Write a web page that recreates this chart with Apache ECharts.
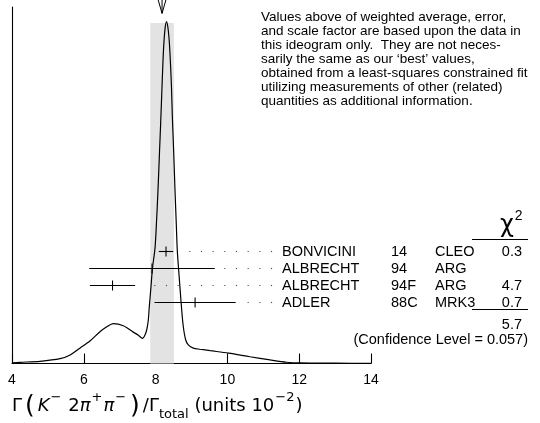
<!DOCTYPE html>
<html>
<head>
<meta charset="utf-8">
<script src="https://cdn.jsdelivr.net/npm/echarts@6/dist/echarts.min.js"></script>
<style>
  html, body { margin: 0; padding: 0; background: #fff; }
  #chart { width: 540px; height: 423px; }
</style>
</head>
<body>
<div id="chart"></div>
<script>
// Ideogram curve: branching ratio (units 10^-2) and relative density (0-100)
const curveX = [4.00, 4.22, 4.78, 5.34, 5.62, 5.89, 6.17, 6.45, 6.64, 6.82, 7.10, 7.38, 7.52,
  7.635, 7.691, 7.752, 7.797, 7.824, 7.864, 7.914, 7.983, 8.025, 8.067, 8.109, 8.142, 8.170,
  8.198, 8.226, 8.262, 8.304, 8.345, 8.382, 8.415, 8.443, 8.465, 8.499, 8.540, 8.577, 8.604,
  8.638, 8.688, 8.727, 8.772, 8.838, 8.911, 9.050, 9.237, 9.52, 10.03, 10.63, 11.19, 11.65,
  12.02, 13.0, 14.0];
const curveY = [0.2, 0.34, 0.62, 1.35, 2.4, 4.3, 6.3, 8.9, 10.3, 11.2, 10.6, 8.8, 7.9,
  7.07, 7.71, 9.4, 12.2, 15.9, 20.6, 26.8, 32.3, 39.6, 48.7, 59.3, 67.7, 75.3,
  82.9, 89.1, 93.8, 95.9, 94.1, 90.2, 84.0, 77.3, 69.7, 60.7, 48.7, 38.9, 31.8,
  26.8, 20.1, 15.0, 10.3, 6.6, 5.2, 4.3, 4.0, 3.6, 2.9, 1.9, 1.0, 0.35,
  0.15, 0.08, 0.06];

// Measurements
const authors     = ['BONVICINI', 'ALBRECHT', 'ALBRECHT', 'ADLER'];
const years       = ['14', '94', '94F', '88C'];
const experiments = ['CLEO', 'ARG', 'ARG', 'MRK3'];
const values      = [8.29, 7.9, 6.80, 9.1];
const errors      = [0.20, 1.75, 0.63, 1.13];
const chi2        = ['0.3', '', '4.7', '0.7'];

// Weighted average and fit summary
const average = 8.18;
const averageError = 0.33;
const chi2Total = '5.7';
const confidenceLevel = '0.057';

// Axis
const xMin = 4, xMax = 14, xStep = 2;

const noteLines = [
  'Values above of weighted average, error,',
  'and scale factor are based upon the data in',
  'this ideogram only.  They are not neces-',
  'sarily the same as our \u2018best\u2019 values,',
  'obtained from a least-squares constrained fit',
  'utilizing measurements of other (related)',
  'quantities as additional information.'
];

const FONT = '"Liberation Sans", Arial, Helvetica, sans-serif';
const MATH = '"DejaVu Sans", sans-serif';
const chart = echarts.init(document.getElementById('chart'), null, { renderer: 'canvas' });

const curveData = curveX.map((x, i) => [x, curveY[i]]);
const rowData = values.map((v, i) => [v, errors[i], i]);

const NAME_X = 282, YEAR_X = 391, EXP_X = 435, CHI_RIGHT = 522;
const LABEL_SIZE = 14.5;

function renderRow(params, api) {
  const i = params.dataIndex;
  const v = api.value(0), e = api.value(1), r = api.value(2);
  const c = api.coord([v, r]);
  const lo = api.coord([v - e, r]);
  const hi = api.coord([v + e, r]);
  const y = Math.round(c[1]) + 0.5;
  const children = [
    { type: 'line', shape: { x1: lo[0], y1: y, x2: hi[0], y2: y },
      style: { stroke: '#000', lineWidth: 1.1 } },
    { type: 'line', shape: { x1: c[0], y1: y - 5, x2: c[0], y2: y + 5 },
      style: { stroke: '#000', lineWidth: 1.1 } }
  ];
  // dotted leader back from the label to the bar
  for (let dx = NAME_X - 10.5; dx > hi[0] + 8.5; dx -= 11.67) {
    children.push({ type: 'rect', shape: { x: dx - 0.6, y: y - 0.6, width: 1.2, height: 1.2 },
      style: { fill: '#555' } });
  }
  const txt = (s, x, align) => ({
    type: 'text',
    style: { text: s, x: x, y: y, align: align, verticalAlign: 'middle',
      fill: '#000', font: LABEL_SIZE + 'px ' + FONT }
  });
  children.push(txt(authors[i], NAME_X, 'left'));
  children.push(txt(years[i], YEAR_X, 'left'));
  children.push(txt(experiments[i], EXP_X, 'left'));
  if (chi2[i]) children.push(txt(chi2[i], CHI_RIGHT, 'right'));
  return { type: 'group', children: children };
}

function renderBand(params, api) {
  const a = api.value(0), e = api.value(1);
  const p0 = api.coord([a - e, 0]);
  const p1 = api.coord([a + e, 95.5]);
  const tip = api.coord([a, 98.2]);
  return {
    type: 'group',
    children: [
      { type: 'rect', shape: { x: p0[0], y: p1[1], width: p1[0] - p0[0], height: p0[1] - p1[1] },
        style: { fill: '#e3e3e3' } },
      { type: 'polyline', shape: { points: [[tip[0] - 4, tip[1] - 14], [tip[0], tip[1]], [tip[0] + 4, tip[1] - 14]] },
        style: { stroke: '#000', lineWidth: 1, fill: null } },
      { type: 'line', shape: { x1: tip[0], y1: tip[1], x2: tip[0], y2: tip[1] - 14 },
        style: { stroke: '#000', lineWidth: 1 } }
    ]
  };
}

const option = {
  animation: false,
  backgroundColor: '#fff',
  grid: [
    { left: 12, width: 359, top: 7, height: 356.5 },
    { left: 12, width: 359, top: 242.15, height: 68.4 }
  ],
  xAxis: [
    {
      gridIndex: 0, type: 'value', min: xMin, max: xMax, interval: xStep,
      axisLine: { lineStyle: { color: '#000', width: 1.1 } },
      axisTick: { inside: true, length: 10, lineStyle: { color: '#000', width: 1.1 } },
      axisLabel: { color: '#000', fontSize: 14, fontFamily: FONT, margin: 10 },
      splitLine: { show: false }
    },
    { gridIndex: 1, type: 'value', min: xMin, max: xMax, show: false }
  ],
  yAxis: [
    {
      gridIndex: 0, type: 'value', min: 0, max: 100,
      axisLine: { show: true, lineStyle: { color: '#000', width: 1.1 } },
      axisTick: { show: false }, axisLabel: { show: false }, splitLine: { show: false }
    },
    { gridIndex: 1, type: 'category', data: ['0', '1', '2', '3'], inverse: true, show: false }
  ],
  series: [
    {
      type: 'custom', xAxisIndex: 0, yAxisIndex: 0, z: 1, clip: false, silent: true,
      renderItem: renderBand, data: [[average, averageError]]
    },
    {
      type: 'line', xAxisIndex: 0, yAxisIndex: 0, z: 3, data: curveData,
      showSymbol: false, smooth: 0.3, silent: true,
      lineStyle: { color: '#000', width: 1.2 }
    },
    {
      type: 'custom', xAxisIndex: 1, yAxisIndex: 1, z: 4, clip: false, silent: true,
      encode: { x: 0, y: 2 }, renderItem: renderRow, data: rowData
    }
  ],
  graphic: [
    {
      type: 'text', left: 261, top: 10, silent: true,
      style: { text: noteLines.join('\n'), font: '13.5px ' + FONT, lineHeight: 14, fill: '#000' }
    },
    {
      type: 'text', left: 500, top: 208, silent: true,
      style: {
        text: '{c|\u03c7}{s|2}',
        rich: {
          c: { fontSize: 24, fontFamily: MATH, fill: '#000', lineHeight: 30, verticalAlign: 'bottom' },
          s: { fontSize: 14, fontFamily: FONT, fill: '#000', lineHeight: 30, verticalAlign: 'top', padding: [1, 0, 0, 1] }
        }
      }
    },
    { type: 'line', silent: true, shape: { x1: 472, y1: 239.5, x2: 528, y2: 239.5 }, style: { stroke: '#000', lineWidth: 1 } },
    { type: 'line', silent: true, shape: { x1: 472, y1: 309.5, x2: 528, y2: 309.5 }, style: { stroke: '#000', lineWidth: 1 } },
    {
      type: 'text', silent: true,
      style: { text: chi2Total, x: CHI_RIGHT, y: 325, align: 'right', verticalAlign: 'middle', font: LABEL_SIZE + 'px ' + FONT, fill: '#000' }
    },
    {
      type: 'text', silent: true,
      style: { text: '(Confidence Level = ' + confidenceLevel + ')', x: 528, y: 340, align: 'right', verticalAlign: 'middle', font: LABEL_SIZE + 'px ' + FONT, fill: '#000' }
    },
    {
      type: 'text', left: 12, top: 391, silent: true,
      style: {
        text: '{n|\u0393}{b|(}{i|K}{sup|\u2212}{n| 2}{i|\u03c0}{sup|+}{i|\u03c0}{sup|\u2212}{b|)}{n|/\u0393}{sub|total}{n| (units 10}{sup|\u22122}{n|)}',
        rich: {
          n:   { fontSize: 18, fontFamily: MATH, fill: '#000', lineHeight: 30 },
          i:   { fontSize: 18, fontFamily: MATH, fontStyle: 'italic', fill: '#000', lineHeight: 30 },
          b:   { fontSize: 25, fontFamily: MATH, fill: '#000', lineHeight: 30, padding: [0, 3, 0, 3] },
          sup: { fontSize: 13, fontFamily: MATH, fill: '#000', verticalAlign: 'top', lineHeight: 15, padding: [0, 1, 0, 1] },
          sub: { fontSize: 13, fontFamily: MATH, fill: '#000', verticalAlign: 'bottom', lineHeight: 15 }
        }
      }
    }
  ]
};

chart.setOption(option);
</script>
</body>
</html>
